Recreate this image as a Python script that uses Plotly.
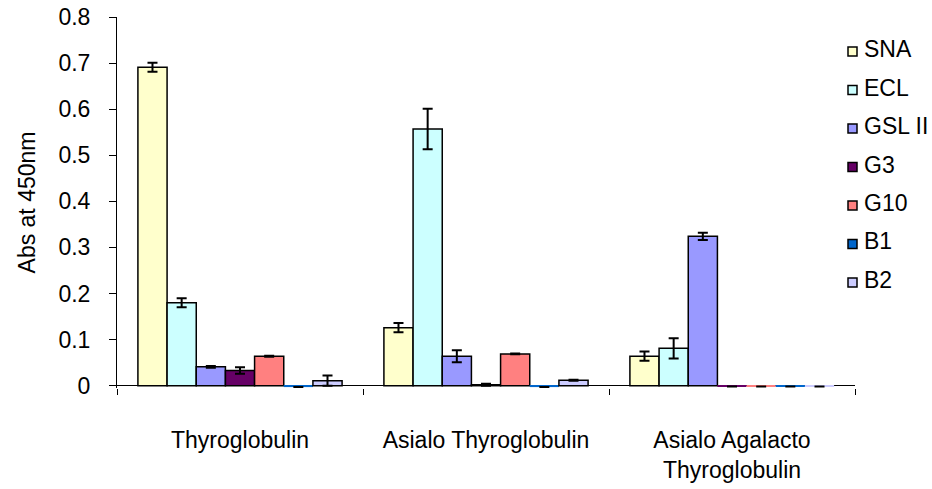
import plotly.graph_objects as go

# Lectin / antibody binding to thyroglobulin glycoforms (ELISA, Abs at 450 nm)
categories = ["Thyroglobulin", "Asialo Thyroglobulin", "Asialo Agalacto<br>Thyroglobulin"]
series_names = ["SNA", "ECL", "GSL II", "G3", "G10", "B1", "B2"]
series_colors = ["#FFFFCC", "#CCFFFF", "#9999FF", "#660066", "#FF8080", "#0066CC", "#CCCCFF"]

sna = [0.691, 0.126, 0.064]
ecl = [0.180, 0.557, 0.081]
gsl2 = [0.041, 0.064, 0.324]
g3 = [0.033, 0.002, -0.002]
g10 = [0.064, 0.069, -0.002]
b1 = [-0.003, -0.003, -0.002]
b2 = [0.011, 0.012, -0.002]

sna_err = [0.010, 0.010, 0.010]
ecl_err = [0.010, 0.044, 0.022]
gsl2_err = [0.002, 0.013, 0.008]
g3_err = [0.007, 0.002, 0.0]
g10_err = [0.001, 0.001, 0.0]
b1_err = [0.0, 0.0, 0.0]
b2_err = [0.011, 0.001, 0.0]

values = [sna, ecl, gsl2, g3, g10, b1, b2]
errors = [sna_err, ecl_err, gsl2_err, g3_err, g10_err, b1_err, b2_err]

FONT = "Liberation Sans, Arial, sans-serif"
SIZE = 23

# page geometry (px) used to place the key beside the bars
W, H = 932, 489
ML, MR, MT, MB = 117, 77, 17, 101
PW, PH = W - ML - MR, H - MT - MB

fig = go.Figure()
for name, color, vals, errs in zip(series_names, series_colors, values, errors):
    # slivers just below zero keep their fill colour visible without an outline
    outline = [0 if v < 0 else 1.5 for v in vals]
    fig.add_trace(go.Bar(
        name=name,
        x=categories,
        y=vals,
        marker=dict(color=color, line=dict(color="black", width=outline)),
        error_y=dict(type="data", array=errs, visible=True,
                     color="black", thickness=2, width=5),
        showlegend=False,
    ))

# key: outlined swatch + series name, one row per series
key_text_x, key_box_x, key_box = 862, 848, 9
key_top, key_step = 49, 38.5
for i, (name, color) in enumerate(zip(series_names, series_colors)):
    cy = key_top + key_step * i
    fig.add_shape(
        type="rect", xref="paper", yref="paper",
        x0=(key_box_x - ML) / PW, x1=(key_box_x + key_box - ML) / PW,
        y0=(H - MB - (cy + 7)) / PH, y1=(H - MB - (cy + 7 - key_box)) / PH,
        fillcolor=color, line=dict(color="black", width=1.5), layer="above",
    )
    fig.add_annotation(
        text=name, xref="paper", yref="paper",
        x=(key_text_x - ML) / PW, y=(H - MB - cy) / PH,
        xanchor="left", yanchor="middle", showarrow=False,
        font=dict(family=FONT, size=SIZE, color="black"),
    )

fig.update_layout(
    width=W, height=H,
    margin=dict(l=ML, r=MR, t=MT, b=MB, autoexpand=False),
    paper_bgcolor="white", plot_bgcolor="white",
    barmode="group", bargap=0.17, bargroupgap=0,
    font=dict(family=FONT, size=SIZE, color="black"),
    showlegend=False,
    xaxis=dict(
        automargin=False, showline=False,
        ticks="outside", tickson="boundaries", ticklen=6, tickcolor="black",
        showgrid=False, ticklabelstandoff=36,
        tickfont=dict(family=FONT, size=SIZE, color="black"),
    ),
    yaxis=dict(
        automargin=False,
        range=[-0.005, 0.8], dtick=0.1, tick0=0,
        showline=True, linecolor="black", linewidth=1,
        ticks="outside", ticklen=7, tickcolor="black",
        showgrid=False, zeroline=True, zerolinecolor="black", zerolinewidth=1,
        ticklabelstandoff=14,
        tickfont=dict(family=FONT, size=SIZE, color="black"),
        title=dict(text="Abs at 450nm", standoff=16,
                   font=dict(family=FONT, size=SIZE, color="black")),
    ),
)

fig.write_html("out.html")
